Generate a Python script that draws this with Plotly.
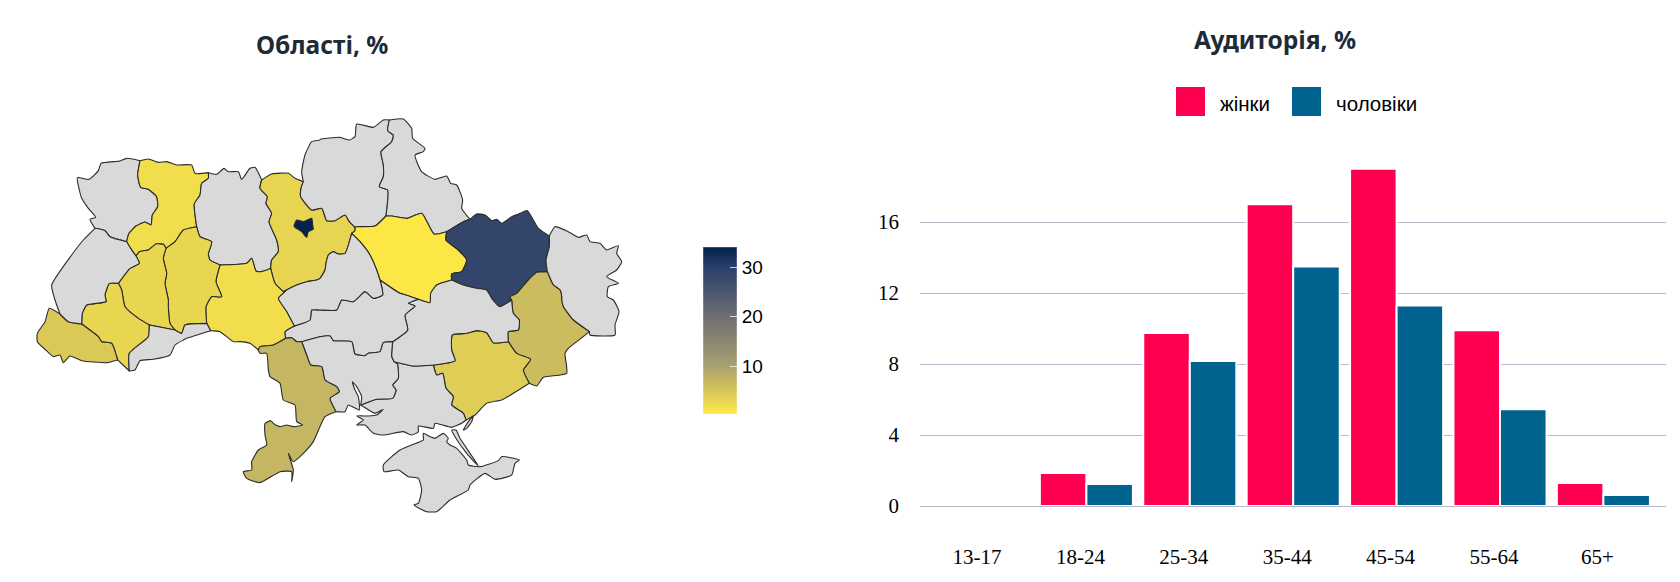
import plotly.graph_objects as go
from plotly.colors import sample_colorscale

# ---------- audience chart data ----------
age_groups = ["13-17", "18-24", "25-34", "35-44", "45-54", "55-64", "65+"]
women = [0, 1.86, 9.75, 17.0, 19.0, 9.9, 1.3]
men = [0, 1.24, 8.17, 13.5, 11.3, 5.45, 0.62]
y_ticks = [0, 4, 8, 12, 16]
series_names = ["жінки", "чоловіки"]

# ---------- map outline data: tracing units, grouped by sheet ----------
SHEET = {1: (20, 100), 2: (320, 100), 3: (20, 290), 4: (320, 290)}

vol_ext = [(1, [(360,182),(320,175),(300,183),(243,190),(235,212),(207,238),(172,233),(178,270),(185,295),(205,325),(227,352),(210,358),(225,385)])]
vol_lvi = [(1, [(225,385),(255,392),(270,410),(320,425)])]
vol_riv = [(1, [(320,425),(327,400),(348,378),(375,366),(393,375),(397,345),(413,320),(410,290),(385,268),(362,262),(353,225),(360,182)])]
riv_top = [(1, [(360,182),(385,177),(415,187),(440,185),(470,195),(515,195),(525,220),(565,218)])]
riv_zhy = [(1, [(565,218),(565,235),(545,250),(540,285),(523,312),(530,380)])]
riv_khm = [(1, [(530,380),(490,390),(465,425),(438,445)])]
riv_ter = [(1, [(438,445),(430,433),(408,432),(385,450),(358,455),(348,468)])]
riv_lvi = [(1, [(348,468),(332,445),(320,425)])]
zhy_top = [(1, [(565,218),(580,222),(592,222),(612,205),(625,215),(655,215),(665,238),(690,205),(705,202),(725,240)])]
zhy_kyi = [(1, [(725,240),(720,265),(742,290),(738,310),(755,340),(747,365),(770,420),(775,455),(755,480),(752,505)])]
zhy_vin = [(1, [(752,505),(725,515),(708,513),(695,475),(680,490),(600,495)])]
zhy_khm = [(1, [(600,495),(570,480),(565,462),(575,425),(540,410),(530,380)])]
kyi_top = [(1, [(725,240),(755,222),(805,220),(825,235),(850,245)])]
chn_kyi = [(1, [(850,245),(843,265),(842,290),(875,330),(905,325)]), (2, [(15,350),(20,362),(45,362),(75,345),(88,365),(105,382)])]
kyi_pol = [(2, [(105,382),(105,392),(95,400)])]
kyi_che = [(2, [(95,400),(75,460),(55,462),(40,455),(25,465),(18,490),(15,510),(0,535)]), (1, [(890,540),(860,545),(830,555),(790,575)])]
kyi_vin = [(1, [(790,575),(765,550),(752,505)])]
kyiv_city = [(1, [(822,378),(830,360),(850,365),(875,355),(878,375),(880,388),(865,395),(860,412),(845,395),(825,382)])]
chn_top = [(1, [(850,245),(845,215),(855,165),(875,125),(900,120)]), (2, [(0,118),(60,112),(88,120),(105,110),(110,72),(160,82),(190,60),(208,60)])]
chn_sum = [(2, [(208,60),(203,92),(220,105),(215,125),(183,155),(190,195),(190,230),(178,260),(203,270),(198,348)])]
chn_pol = [(2, [(198,348),(165,378),(110,380),(105,382)])]
sum_top = [(2, [(208,60),(250,57),(275,85),(278,115),(315,145),(310,155),(285,165),(305,215),(345,238),(380,228),(392,250),(410,255),(428,300),(425,325),(450,358)])]
sum_kha = [(2, [(450,358),(430,365),(380,395)])]
sum_pol = [(2, [(380,395),(342,402),(305,340),(262,355),(215,348),(198,348)])]
kha_top = [(2, [(450,358),(470,342),(495,345),(515,362),(530,358),(545,370),(575,350),(600,340),(622,332),(655,385),(688,408)])]
kha_lug = [(2, [(688,408),(688,440),(678,480),(682,515)])]
kha_don = [(2, [(682,515),(650,517),(625,540),(590,580),(570,590)]), (4, [(575,30)])]
kha_dni = [(4, [(575,30),(540,50),(515,25),(500,0)]), (2, [(470,565),(430,555),(395,540)])]
kha_pol = [(2, [(380,395),(378,420),(415,450),(440,480),(425,515),(395,522),(395,540)])]
pol_dni = [(2, [(395,540),(350,555)]), (4, [(332,10),(330,38),(295,28)])]
pol_kir = [(4, [(295,28),(265,17),(240,10),(180,-30)])]
pol_che = [(4, [(180,-30)]), (2, [(170,510),(150,465),(120,425),(95,400)])]
lug_top = [(2, [(688,408),(705,380),(745,395),(775,412),(800,405),(810,425),(840,430),(860,450),(895,437),(890,460),(905,485),(890,510),(860,530),(895,550),(865,560),(862,590)]), (4, [(880,30),(897,65),(885,105),(885,135),(810,135),(808,125)])]
lug_don = [(4, [(808,125),(760,90),(730,50),(725,30)]), (2, [(725,590),(720,570),(700,555),(682,515)])]
don_sea = [(4, [(808,125),(790,140),(745,175),(735,190),(740,250),(670,262),(650,288),(628,280)])]
don_zap = [(4, [(628,280),(610,240),(632,208),(590,190),(565,155)])]
don_dni = [(4, [(565,155),(565,125),(595,120),(598,90),(580,70),(575,30)])]
dni_zap = [(4, [(340,225),(405,212),(395,180),(397,135),(440,130),(470,122),(500,128),(520,158),(565,155)])]
zap_sea = [(4, [(628,280),(580,310),(545,330),(500,340),(465,375),(438,390)])]
zap_khe = [(4, [(438,390),(430,370),(395,345),(400,320),(378,295),(368,250),(350,255),(340,225)])]
khe_sea = [(4, [(438,390),(425,400),(395,412),(385,410),(345,400),(340,415),(295,408),(295,425),(275,435),(250,425),(190,435),(160,430),(135,405),(110,405),(130,390),(110,378),(145,378),(170,375),(190,358),(165,370),(130,350),(122,345)])]
khe_myk = [(4, [(122,345),(170,328),(218,325),(228,300),(218,285),(235,265),(232,222),(222,215)])]
dni_khe = [(4, [(222,215),(280,228),(340,225)])]
dni_myk = [(4, [(222,215),(215,200),(218,155)])]
dni_kir = [(4, [(218,155),(263,120),(255,75),(285,48),(265,40),(295,28)])]
kir_myk = [(4, [(218,155),(190,158),(180,185),(145,190),(135,197),(105,192),(95,155),(40,152),(30,138),(0,140)]), (3, [(845,155)])]
kir_ode = [(3, [(845,155),(830,155),(815,143),(797,145)])]
kir_vin = [(3, [(797,145),(795,125),(823,108)])]
che_kir = [(4, [(180,-30),(188,15),(160,25),(135,5),(100,35),(65,30),(50,60),(0,60)]), (3, [(875,60),(870,90),(823,108)])]
che_vin = [(3, [(823,108),(800,65),(775,25),(800,0),(790,5)])]
myk_sea = [(4, [(122,345),(125,320),(110,290),(97,275),(105,300),(115,320),(118,360),(85,345),(75,365),(48,365)])]
myk_ode = [(4, [(48,365),(30,325),(58,305),(50,290),(15,270)]), (3, [(905,230),(872,225),(860,195),(845,155)])]
vin_ode = [(3, [(797,145),(760,165),(720,170),(715,180)])]
vin_mol = [(3, [(715,180),(690,160),(660,155),(640,155),(600,125),(572,122)])]
vin_cvi = [(3, [(572,122),(560,100)])]
khm_vin = [(3, [(560,100),(558,50),(575,20),(605,20)]), (1, [(588,545),(600,495)])]
khm_cvi = [(3, [(560,100),(495,105),(485,130),(465,120)])]
khm_ter = [(3, [(465,120),(450,100),(445,50)]), (1, [(445,600),(435,550),(440,520),(430,475),(438,445)])]
ter_cvi = [(3, [(465,120),(388,105)])]
ter_if = [(3, [(388,105),(355,85),(315,50),(305,0)]), (1, [(295,550)])]
ter_lvi = [(1, [(295,550),(330,505),(358,490),(348,468)])]
if_cvi = [(3, [(388,105),(385,140),(328,190),(328,243)])]
if_bot = [(3, [(293,210),(328,243)])]
if_zak = [(3, [(185,102),(235,140),(245,155),(275,160),(293,210)])]
lvi_if = [(3, [(185,102),(187,70),(200,45),(258,35)]), (1, [(255,585),(268,550),(295,550)])]
cvi_out = [(3, [(572,122),(500,145),(490,150),(465,165),(450,195),(400,208),(360,212),(345,240),(328,243)])]
lvi_zak = [(3, [(120,72),(145,95),(185,102)])]
zak_out = [(3, [(293,210),(260,218),(185,212),(150,198),(130,218),(120,195),(100,200),(75,178),(52,155),(52,130),(75,95),(88,55),(120,72)])]
lvi_out = [(1, [(225,385),(190,420),(155,465),(95,555)]), (3, [(105,30),(120,72)])]
ode_sea = [(4, [(48,365),(15,380)]), (3, [(880,455),(850,490),(820,515),(805,490),(820,540),(815,575),(815,545),(780,545),(720,578),(680,565),(670,545),(695,540),(695,515),(715,480),(740,465),(735,435),(735,400),(752,392),(760,400),(780,410),(800,405),(820,410),(848,405),(830,395),(825,345),(790,330),(780,280),(750,260),(745,240),(740,190),(720,190),(715,180)])]
crimea = [(4, [(300,455),(240,480),(190,525),(192,545),(235,540),(265,560),(295,565),(305,600),(295,640),(282,645),(320,665),(350,665),(390,630),(445,600),(450,585),(495,550),(525,568),(575,555),(585,520),(598,510),(545,500),(535,512),(480,530),(445,525),(440,510),(410,475),(390,465),(380,455),(385,445),(370,430),(345,445),(330,440),(310,430),(310,450)])]
arabat = [(4, [(395,420),(408,420),(420,445),(475,528),(440,490),(405,440)])]
spit = [(4, [(460,378),(455,395),(440,415),(430,420),(445,395)])]


def r(arc):
    return [(sheet, pts[::-1]) for sheet, pts in arc[::-1]]


regions = {
    "Волинська": ([vol_ext, vol_lvi, vol_riv], None),
    "Рівненська": ([riv_top, riv_zhy, riv_khm, riv_ter, riv_lvi, vol_riv], 1.8),
    "Житомирська": ([zhy_top, zhy_kyi, zhy_vin, zhy_khm, r(riv_zhy)], None),
    "Київська": ([kyi_top, chn_kyi, kyi_pol, kyi_che, kyi_vin, r(zhy_kyi)], 3),
    "Чернігівська": ([chn_top, chn_sum, chn_pol, r(chn_kyi)], None),
    "Сумська": ([sum_top, sum_kha, sum_pol, r(chn_sum)], None),
    "Полтавська": ([r(chn_pol), r(sum_pol), kha_pol, pol_dni, pol_kir, pol_che, r(kyi_pol)], 0.5),
    "Харківська": ([kha_top, kha_lug, kha_don, kha_dni, r(kha_pol), r(sum_kha)], 28.5),
    "Луганська": ([lug_top, lug_don, r(kha_lug)], None),
    "Донецька": ([r(lug_don), don_sea, don_zap, don_dni, r(kha_don)], 6.3),
    "Запорізька": ([dni_zap, r(don_zap), zap_sea, zap_khe], 4),
    "Херсонська": ([r(zap_khe), khe_sea, khe_myk, dni_khe], None),
    "Дніпропетровська": ([r(pol_dni), r(kha_dni), r(don_dni), r(dni_zap), r(dni_khe), dni_myk, dni_kir], None),
    "Кіровоградська": ([r(pol_kir), r(dni_kir), kir_myk, kir_ode, kir_vin, r(che_kir)], None),
    "Миколаївська": ([r(kir_myk), r(dni_myk), r(khe_myk), myk_sea, myk_ode], None),
    "Черкаська": ([r(kyi_che), r(pol_che), che_kir, che_vin], None),
    "Вінницька": ([r(zhy_vin), r(kyi_vin), r(che_vin), r(kir_vin), vin_ode, vin_mol, vin_cvi, khm_vin], 1.8),
    "Хмельницька": ([r(riv_khm), r(zhy_khm), r(khm_vin), khm_cvi, khm_ter], 2.8),
    "Тернопільська": ([r(riv_ter), r(khm_ter), ter_cvi, ter_if, ter_lvi], 2.8),
    "Івано-Франківська": ([r(ter_if), if_cvi, r(if_bot), r(if_zak), lvi_if], 2.8),
    "Чернівецька": ([r(if_cvi), r(ter_cvi), r(khm_cvi), r(vin_cvi), cvi_out], None),
    "Закарпатська": ([lvi_zak, if_zak, zak_out], 4.5),
    "Львівська": ([r(vol_lvi), lvi_out, lvi_zak, lvi_if, ter_lvi, riv_lvi], None),
    "Одеська": ([r(myk_ode), ode_sea, r(vin_ode), r(kir_ode)], 7),
    "АР Крим": ([crimea], None),
    "Арабатська стрілка": ([arabat], None),
    "коса": ([spit], None),
    "м. Київ": ([kyiv_city], 34),
}

CMIN, CMAX = 0.3, 34.1
scale = [[0, "#FFE945"], [0.29, "#A99F70"], [0.58, "#6E6F73"], [0.88, "#2A3E6A"], [1, "#02214F"]]
NO_DATA = "#D9D9D9"


def outline(arcs):
    xs, ys = [], []
    for arc in arcs:
        for sheet, pts in arc:
            ox, oy = SHEET[sheet]
            for u, v in pts:
                xs.append(ox + u / 3)
                ys.append(oy + v / 3)
    return xs + xs[:1], ys + ys[:1]


fig = go.Figure()
cx, cy, cv = [], [], []
for name, (arcs, val) in regions.items():
    xs, ys = outline(arcs)
    fill = NO_DATA if val is None else sample_colorscale(scale, [(val - CMIN) / (CMAX - CMIN)])[0]
    fig.add_trace(go.Scatter(x=xs, y=ys, xaxis="x2", yaxis="y2", mode="lines", fill="toself", fillcolor=fill,
                             line=dict(color="#2b2b2b", width=1.1, shape="spline", smoothing=0.5), name=name,
                             hoverinfo="name", showlegend=False))
    if val is not None:
        cx.append(sum(xs) / len(xs)); cy.append(sum(ys) / len(ys)); cv.append(val)

fig.add_trace(go.Scatter(
    x=cx, y=cy, xaxis="x2", yaxis="y2", mode="markers", showlegend=False, hoverinfo="skip",
    marker=dict(size=1, opacity=0, color=cv, cmin=CMIN, cmax=CMAX, colorscale=scale, showscale=True,
                colorbar=dict(x=703 / 1680, xanchor="left", xref="paper", xpad=0, y=1 - 247 / 582, yanchor="top",
                              yref="paper", ypad=0, thickness=34, thicknessmode="pixels", len=167, lenmode="pixels",
                              tickvals=[10, 20, 30], ticks="inside", ticklen=7, tickcolor="rgba(255,255,255,0.75)",
                              tickwidth=1, outlinewidth=1, outlinecolor="rgba(255,255,255,0.4)",
                              tickfont=dict(family="Liberation Sans", size=19, color="#000")))))

line_w = [0 if v == 0 else 2 for v in women]
fig.add_trace(go.Bar(x=age_groups, y=women, name=series_names[0], marker=dict(color="#FF0050", line=dict(color="#fff", width=line_w)), showlegend=False))
fig.add_trace(go.Bar(x=age_groups, y=men, name=series_names[1], marker=dict(color="#00628F", line=dict(color="#fff", width=line_w)), showlegend=False))

X0, X1, Y0, Y1 = 920, 1666, 506, 160
C0, STEP = 983, 103.4
shapes = []
for val in [10, 20, 30]:
    yp = 1 - (247 + (CMAX - val) / (CMAX - CMIN) * 167) / 582
    shapes.append(dict(type="line", xref="paper", yref="paper", x0=703 / 1680, x1=710 / 1680, y0=yp, y1=yp,
                       line=dict(color="rgba(255,255,255,0.75)", width=1)))
for x0, col in [(1176, "#FF0050"), (1292, "#00628F")]:
    shapes.append(dict(type="rect", xref="paper", yref="paper", x0=x0 / 1680, x1=(x0 + 29) / 1680,
                       y0=1 - 116 / 582, y1=1 - 87 / 582, fillcolor=col, line=dict(width=0)))

TITLE = dict(family="Noto Sans", size=24.5, color="#1D2B36")
ann = [
    dict(text="<b>Області, %</b>", x=322 / 1680, y=1 - 45 / 582, font=TITLE),
    dict(text="<b>Аудиторія, %</b>", x=1275 / 1680, y=1 - 40 / 582, font=TITLE),
    dict(text=series_names[0], x=1218 / 1680, y=1 - 103 / 582, xanchor="left", font=dict(family="Liberation Sans", size=20.5, color="#000")),
    dict(text=series_names[1], x=1334 / 1680, y=1 - 103 / 582, xanchor="left", font=dict(family="Liberation Sans", size=20.5, color="#000")),
]
for a in ann:
    a.update(xref="paper", yref="paper", showarrow=False)
    a.setdefault("xanchor", "center")
    a["yanchor"] = "middle"

GRID = "#B9B9C9"
fig.update_layout(
    width=1680, height=582, margin=dict(l=0, r=0, t=0, b=0, autoexpand=False), paper_bgcolor="#fff", plot_bgcolor="#fff",
    barmode="group", bargap=0.1, bargroupgap=0, shapes=shapes, annotations=ann,
    xaxis=dict(domain=[X0 / 1680, X1 / 1680], type="category", categoryorder="array", categoryarray=age_groups,
               range=[(X0 - C0) / STEP, (X1 - C0) / STEP], showgrid=False, showline=False, zeroline=False, ticks="",
               ticklabelstandoff=36, ticklabelshift=-6,
               tickfont=dict(family="Liberation Serif", size=21, color="#000"), anchor="y"),
    yaxis=dict(domain=[1 - Y0 / 582, 1 - Y1 / 582], range=[0, (Y0 - Y1) / 17.75], tickvals=y_ticks, showgrid=True,
               gridcolor=GRID, gridwidth=1, zeroline=True, zerolinecolor=GRID, zerolinewidth=1, showline=False, ticks="",
               ticklabelstandoff=20, tickfont=dict(family="Liberation Serif", size=21, color="#000"), anchor="x"),
    xaxis2=dict(domain=[0, 660 / 1680], range=[0, 660], visible=False, anchor="y2", fixedrange=True),
    yaxis2=dict(domain=[0, 1], range=[582, 0], visible=False, anchor="x2", fixedrange=True),
)
fig.write_html("out.html", post_script="document.body.style.margin='0';", config={"displayModeBar": False})
